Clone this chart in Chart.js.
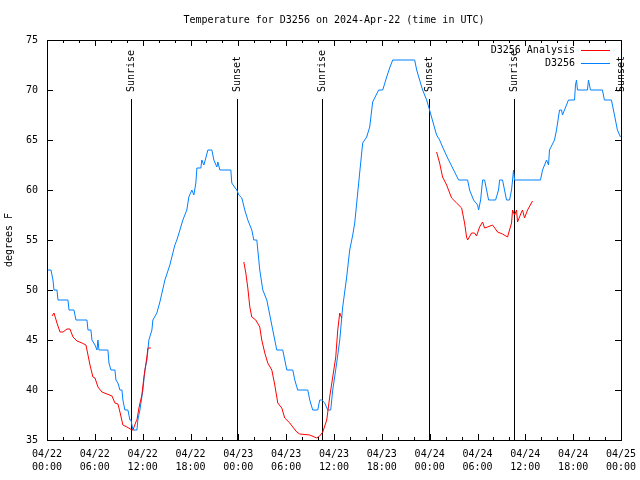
<!DOCTYPE html>
<html>
<head>
<meta charset="utf-8">
<title>Temperature for D3256</title>
<script src="https://cdn.jsdelivr.net/npm/chart.js@4.4.1/dist/chart.umd.min.js"></script>
<style>
  html, body { margin: 0; padding: 0; background: #fff; }
</style>
</head>
<body>
<canvas id="chart" width="640" height="480"></canvas>
<script>
// hours since 04/22 00:00 UTC
const stationHours = [0, 0.5, 0.75, 0.88, 1.25, 1.38, 2.63, 2.76, 3.38, 3.63,
  5.01, 5.14, 5.51, 5.64, 6.02, 6.27, 6.39, 6.52, 7.64, 7.77,
  8.02, 8.52, 8.65, 8.9, 9.15, 9.4, 9.52, 9.77, 10.15, 10.4,
  10.53, 10.78, 11.28, 11.4, 11.65, 12.03, 12.28, 12.53, 12.78, 13.16,
  13.28, 13.78, 14.16, 14.79, 15.41, 16.04, 16.29, 16.67, 17.04, 17.54,
  17.79, 18.17, 18.42, 18.67, 18.8, 19.3, 19.42, 19.67, 19.92, 20.18,
  20.68, 20.93, 21.3, 21.43, 21.68, 23.06, 23.18, 23.43, 23.81, 24.06,
  24.44, 24.81, 25.19, 25.69, 25.94, 26.32, 26.44, 26.69, 27.07, 27.57,
  27.82, 28.32, 28.82, 29.57, 30.08, 30.83, 31.08, 31.45, 32.71, 32.96,
  33.33, 33.96, 34.21, 34.46, 34.84, 35.21, 35.59, 35.84, 36.34, 36.72,
  37.09, 37.59, 37.97, 38.35, 38.6, 38.97, 39.22, 39.6, 40.1, 40.48,
  40.85, 41.6, 42.11, 42.61, 42.98, 43.36, 46.12, 46.37, 46.74, 47.12,
  47.62, 47.99, 48.62, 48.87, 49.25, 49.62, 50.25, 50.88, 51.63, 52.76,
  53.01, 53.51, 54.01, 54.14, 54.39, 54.64, 54.89, 55.14, 55.39, 55.76,
  56.27, 56.64, 56.77, 57.14, 57.39, 57.64, 58.02, 58.27, 58.4, 58.52,
  58.65, 58.9, 61.9, 62.16, 62.66, 62.91, 63.03, 63.66, 63.91, 64.29,
  64.54, 64.66, 64.91, 65.41, 66.17, 66.29, 66.42, 66.54, 67.79, 67.92,
  68.17, 69.67, 69.92, 70.8, 71.18, 71.55, 71.93];
const stationTemps = [52, 52, 51, 50, 50, 49, 49, 48, 48, 47,
  47, 46, 46, 45, 44.5, 44, 45, 44, 44, 42.7,
  42, 42, 41, 40.7, 40, 40, 39, 38, 38, 37,
  37, 36, 36, 37, 38, 40, 42, 43, 45, 46,
  47, 47.7, 48.8, 51, 52.5, 54.5, 55, 56, 57, 58,
  59.3, 60, 59.5, 60.7, 62.2, 62.2, 63, 62.5, 63.2, 64,
  64, 63, 62.3, 62.8, 62, 62, 60.7, 60.4, 60, 59.5,
  59.2, 58, 57, 56, 55, 55, 54, 52, 50, 49,
  48, 46, 44, 44, 42, 42, 41, 40, 40, 39,
  38, 38, 39, 39, 38.7, 38, 38, 40, 42.7, 45,
  48.3, 51.3, 54, 55.5, 56.7, 59.7, 61.7, 64.7, 65.3, 66.3,
  68.8, 70, 70, 71.3, 72.2, 73, 73, 72, 71, 70,
  69, 68, 66.2, 65.5, 65, 64.3, 63.2, 62.2, 61, 61,
  60, 59, 58.5, 58, 59, 61, 61, 60, 59, 59,
  59, 60, 61, 61, 60, 59, 59, 60, 61, 62,
  61, 61, 61, 62, 63, 62.5, 64, 65, 66, 68,
  68, 67.5, 68, 69, 69, 70.5, 71, 70, 70, 71,
  70, 70, 69, 69, 67.5, 66, 65.3];

const analysisHours = [0.63, 0.88, 1.25, 1.63, 2.01, 2.51, 2.88, 3.26, 3.76, 4.39,
  4.89, 5.14, 5.39, 5.76, 6.02, 6.39, 6.89, 7.52, 8.15, 8.52,
  8.9, 9.15, 9.52, 10.03, 10.65, 10.78, 11.15, 11.28, 11.53, 11.9,
  12.16, 12.53, 12.66, 13.03, 18.0,
  24.69, 24.94, 25.19, 25.44, 25.69, 26.19, 26.69, 26.94, 27.32, 27.69,
  28.2, 28.57, 28.95, 29.45, 29.82, 30.45, 30.83, 31.33, 31.7, 32.96,
  33.83, 34.21, 34.59, 35.09, 35.46, 35.84, 36.22, 36.47, 36.72, 36.97, 42.0,
  48.87, 49.25, 49.62, 50.13, 50.75, 51.38, 52.01, 52.38, 52.63, 52.76,
  53.26, 53.63, 53.88, 54.26, 54.64, 54.89, 55.26, 55.89, 56.52, 57.14,
  57.77, 58.27, 58.4, 58.65, 58.9, 59.02, 59.52, 59.65, 59.9, 60.28, 60.9];
const analysisTemps = [47.4, 47.7, 46.7, 45.8, 45.8, 46.1, 46.1, 45.3, 44.9, 44.7,
  44.5, 43.5, 42.5, 41.3, 41.2, 40.3, 39.8, 39.6, 39.4, 38.7,
  38.6, 37.8, 36.5, 36.3, 36, 36, 36.8, 37, 38.2, 39.5,
  41.3, 43.3, 44.2, 44.2, null,
  52.8, 51.7, 50.2, 48.3, 47.3, 47, 46.3, 45, 43.7, 42.7,
  42, 40.5, 38.7, 38.2, 37.2, 36.7, 36.3, 35.8, 35.6, 35.5,
  35.2, 35.4, 35.8, 37, 39.3, 41.3, 43.3, 46, 47.7, 47.2, null,
  63.8, 62.7, 61.3, 60.5, 59.2, 58.7, 58.2, 56.7, 55.3, 55,
  55.7, 55.7, 55.4, 56.3, 56.8, 56.2, 56.3, 56.5, 55.8, 55.6,
  55.3, 56.7, 58, 57.5, 58, 56.8, 57.8, 58, 57.2, 58, 58.9];

const sunriseHours = [10.53, 34.46, 58.52];
const sunsetHours = [23.81, 47.87, 71.95];

const xTickLabels = [
  ['04/22', '00:00'], ['04/22', '06:00'], ['04/22', '12:00'], ['04/22', '18:00'],
  ['04/23', '00:00'], ['04/23', '06:00'], ['04/23', '12:00'], ['04/23', '18:00'],
  ['04/24', '00:00'], ['04/24', '06:00'], ['04/24', '12:00'], ['04/24', '18:00'],
  ['04/25', '00:00']
];

const MONO = "'DejaVu Sans Mono', 'Liberation Mono', monospace";

// frame with inward ticks on all four sides, gnuplot style
const frameTicks = {
  id: 'frameTicks',
  afterDraw(chart) {
    const { ctx, chartArea: a, scales: { x, y } } = chart;
    ctx.save();
    ctx.strokeStyle = '#000';
    ctx.lineWidth = 1;
    ctx.beginPath();
    for (let h = 0; h <= 72; h += 2) {
      const px = Math.round(x.getPixelForValue(h)) + 0.5;
      const len = h % 6 === 0 ? 6 : 3;
      ctx.moveTo(px, a.bottom); ctx.lineTo(px, a.bottom - len);
      ctx.moveTo(px, a.top); ctx.lineTo(px, a.top + len);
    }
    for (let v = 35; v <= 75; v += 5) {
      const py = Math.round(y.getPixelForValue(v)) + 0.5;
      ctx.moveTo(a.left, py); ctx.lineTo(a.left + 6, py);
      ctx.moveTo(a.right, py); ctx.lineTo(a.right - 6, py);
    }
    ctx.stroke();
    ctx.strokeRect(Math.round(a.left) + 0.5, Math.round(a.top) + 0.5,
      Math.round(a.right - a.left), Math.round(a.bottom - a.top));
    ctx.restore();
  }
};

// sunrise / sunset markers
const sunMarks = {
  id: 'sunMarks',
  beforeDatasetsDraw(chart) {
    const { ctx, chartArea: a, scales: { x } } = chart;
    const marks = sunriseHours.map(h => [h, 'Sunrise'])
      .concat(sunsetHours.map(h => [h, 'Sunset']));
    ctx.save();
    ctx.strokeStyle = '#000';
    ctx.fillStyle = '#000';
    ctx.lineWidth = 1;
    ctx.font = '10px ' + MONO;
    marks.forEach(([h, label]) => {
      const px = Math.round(x.getPixelForValue(h)) + 0.5;
      ctx.beginPath();
      ctx.moveTo(px, a.top + 59);
      ctx.lineTo(px, a.bottom);
      ctx.stroke();
      ctx.save();
      ctx.translate(px, a.top + 52);
      ctx.rotate(-Math.PI / 2);
      ctx.textAlign = 'left';
      ctx.textBaseline = 'middle';
      ctx.fillText(label, 0, 0);
      ctx.restore();
    });
    ctx.restore();
  }
};

// key in the top right corner of the plot
const keyBox = {
  id: 'keyBox',
  afterDraw(chart) {
    const { ctx, chartArea: a } = chart;
    ctx.save();
    ctx.font = '10px ' + MONO;
    ctx.textAlign = 'right';
    ctx.textBaseline = 'middle';
    chart.data.datasets.forEach((ds, i) => {
      const yy = a.top + 10 + i * 13;
      ctx.fillStyle = '#000';
      ctx.fillText(ds.label, a.right - 46, yy);
      ctx.strokeStyle = ds.borderColor;
      ctx.lineWidth = 1;
      ctx.beginPath();
      ctx.moveTo(a.right - 40, Math.round(yy) + 0.5);
      ctx.lineTo(a.right - 11, Math.round(yy) + 0.5);
      ctx.stroke();
    });
    ctx.restore();
  }
};

new Chart(document.getElementById('chart'), {
  type: 'line',
  data: {
    datasets: [
      {
        label: 'D3256 Analysis',
        data: analysisHours.map((h, i) => ({ x: h, y: analysisTemps[i] })),
        borderColor: '#ff0000',
        borderWidth: 1,
        pointRadius: 0,
        spanGaps: false,
        tension: 0
      },
      {
        label: 'D3256',
        data: stationHours.map((h, i) => ({ x: h, y: stationTemps[i] })),
        borderColor: '#0080ff',
        borderWidth: 1,
        pointRadius: 0,
        tension: 0
      }
    ]
  },
  options: {
    responsive: false,
    animation: false,
    layout: { padding: { left: 0, right: 19, top: 0, bottom: 0 } },
    plugins: {
      legend: { display: false },
      tooltip: { enabled: false },
      title: {
        display: true,
        fullSize: false,
        text: 'Temperature for D3256 on 2024-Apr-22 (time in UTC)',
        color: '#000',
        font: { family: MONO, size: 10, weight: 'normal', lineHeight: 1.2 },
        padding: { top: 14, bottom: 14 }
      }
    },
    scales: {
      x: {
        type: 'linear',
        min: 0,
        max: 72,
        grid: { display: false, drawTicks: false },
        border: { display: false },
        afterFit: (s) => { s.height = 40; s.paddingLeft = 0; s.paddingRight = 0; },
        ticks: {
          stepSize: 6,
          maxRotation: 0,
          padding: 8,
          color: '#000',
          font: { family: MONO, size: 10, lineHeight: 1.3 },
          callback: (v) => xTickLabels[Math.round(v / 6)]
        }
      },
      y: {
        min: 35,
        max: 75,
        grid: { display: false, drawTicks: false },
        border: { display: false },
        afterFit: (s) => { s.width = 47; s.paddingTop = 0; s.paddingBottom = 0; },
        title: {
          display: true,
          text: 'degrees F',
          color: '#000',
          font: { family: MONO, size: 10, lineHeight: 1.2 },
          padding: { top: 3, bottom: 0 }
        },
        ticks: {
          stepSize: 5,
          padding: 9,
          color: '#000',
          font: { family: MONO, size: 10 }
        }
      }
    }
  },
  plugins: [sunMarks, frameTicks, keyBox]
});
</script>
</body>
</html>
